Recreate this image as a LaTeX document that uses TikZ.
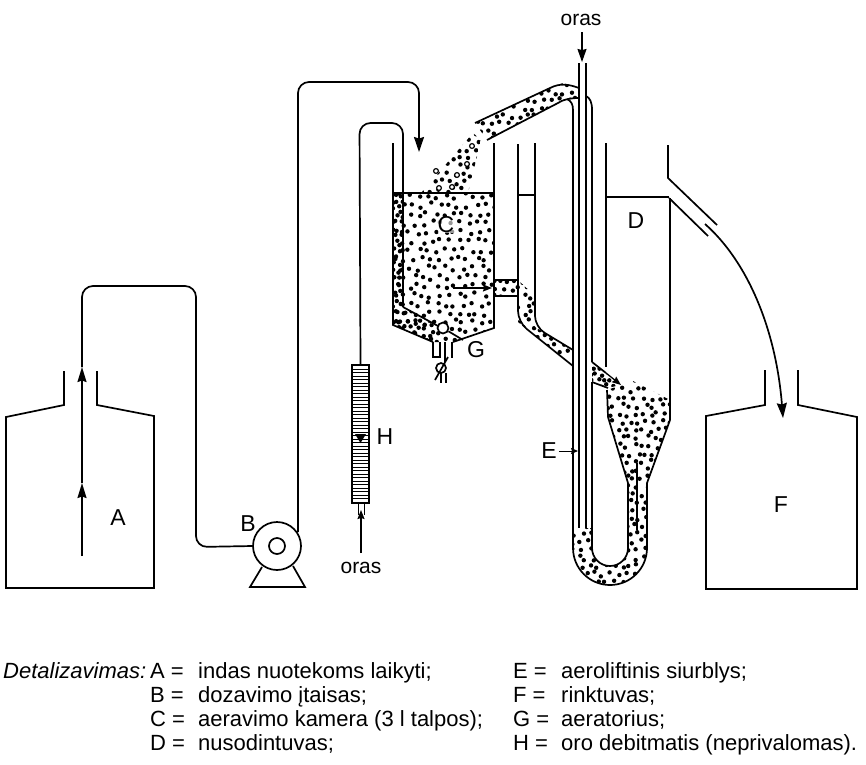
\documentclass[tikz,border=0pt]{standalone}
\usepackage{fontspec}
\setmainfont{Liberation Sans}
\usetikzlibrary{arrows.meta,positioning}
\newcommand{\grains}[6]{\begin{scope}\clip #1;
\foreach \gi in {0,...,#4} \foreach \gj in {0,...,#5} \fill ({#2+#6*\gi+mod(\gj,2)*#6/2+rand*#6/3.2},{#3+#6*\gj+rand*#6/3.2}) circle (2.2pt);
\end{scope}}
\tikzset{
  wall/.style={line width=1.7pt},
  thin wall/.style={line width=1pt},
  pipe/.style={line width=1.7pt,rounded corners=11pt},
  flow/.style={line width=1.5pt,-{Stealth[length=15pt,width=9pt,inset=1.5pt]}},
  small flow/.style={line width=1.3pt,-{Stealth[length=9pt,width=7pt,inset=1pt]}},
  open grain/.style={line width=1.2pt,fill=white},
  tag/.style={font=\fontsize{23}{24}\selectfont,inner sep=0pt},
  air/.style={font=\fontsize{21}{24}\selectfont,inner sep=0pt},
  legend/.style={font=\fontsize{22}{24}\selectfont,inner sep=0pt,anchor=base west}
}
\begin{document}
\begin{tikzpicture}[x=1pt,y=-1pt]
\useasboundingbox (0,0) rectangle (866,764);
\pgfmathsetseed{17}

% bottles
\draw[wall] (64,371) -- (64,405) -- (6,417) -- (6,588) -- (154,588) -- (154,416) -- (97,405) -- (97,371);
\draw[wall] (765,370) -- (765,405) -- (706,416) -- (706,589) -- (857,589) -- (857,417) -- (798,405) -- (798,370);
\node[tag] (labelA) at (118,518) {A};
\node[tag] (labelF) at (781,505) {F};

% pump
\node[draw,wall,circle,minimum size=48pt,inner sep=0pt] (pump) at (277,546) {};
\node[draw,wall,circle,minimum size=16pt,inner sep=0pt] (pumpeye) at (277,546) {};
\draw[wall] (262,567) -- (250,587) -- (305,587) -- (293,566);
\node[tag] (labelB) at (248,524) {B};

% feed line
\coordinate (feedin) at (82,556);
\coordinate (feedmid) at (82,483);
\coordinate (feedneck) at (82,367);
\coordinate (feedtop) at (82,286);
\coordinate (feedright) at (196,286);
\coordinate (pumpout) at (298,532);
\coordinate (dropin) at (419,152);
\draw[flow] (feedin) -- (feedmid);
\draw[flow] (feedmid) -- (feedneck);
\draw[pipe] (feedneck) -- (feedtop) -- (feedright) -- (196,547) -- (pump.west);
\draw[pipe,-{Stealth[length=15pt,width=10pt,inset=1.5pt]}] (pumpout) -- (298,82) -- (419,82) -- (dropin);

% air meter
\node[draw,wall,minimum width=17pt,minimum height=138pt,inner sep=0pt] (meter) at (360.5,434) {};
\foreach \hy in {369,372.5,...,500} \draw[line width=.8pt] (meter.west |- 0,\hy) -- (meter.east |- 0,\hy);
\fill (355,434) -- (366,434) -- (360.5,443) -- cycle;
\node[tag] (labelH) at (385,437) {H};
\draw[thin wall] (358,503) -- (358,515) (364,503) -- (364,515);
\coordinate (airin) at (361,553);
\coordinate (airup) at (361,510);
\draw[small flow] (airin) -- (airup);
\node[air] (orasH) at (361,568) {oras};
\coordinate (aerbend) at (403,307);
\draw[pipe] (meter.north) -- (359.5,123) -- (403,123) -- (aerbend);

% chamber C with its grains
\grains{(393,193) -- (494,193) -- (494,328) -- (453,342) -- (433,342) -- (393,325) -- cycle}{391}{196}{11}{16}{9}
\grains{(393,193) -- (403,193) -- (403,307) -- (436,326) -- (433,342) -- (393,325) -- cycle}{394}{194}{6}{22}{7}
\grains{(494,280) -- (518,280) -- (535,296) -- (535,327) -- (573,350) -- (573,366) -- (518,322) -- (518,296) -- (494,296) -- cycle}{492}{281}{10}{11}{8}
\grains{(475,123) -- (550,88) -- (563,83) -- (578,88) -- (578,99) -- (565,98) -- (558,103) -- (487,140) -- cycle}{472}{84}{13}{7}{8}
\grains{(473,133) -- (421,193) -- (468,193) -- (481,140) -- cycle}{418}{134}{8}{8}{8}
\grains{(607,390) -- (633,381) -- (670,400) -- (670,420) -- (647,483) -- (647,548) arc (0:180:37 and 37) -- (573,528) -- (592,528) -- (592,548) arc (180:0:18 and 18) -- (628,483) -- (608,417) -- cycle}{570}{382}{12}{26}{8}
\grains{(592,362) -- (620,385) -- (608,388) -- (592,382) -- cycle}{590}{362}{4}{4}{6}
\foreach \ox/\oy in {436/171,457/175,439/188,467/164,472/146,452/187}
  \draw[open grain] (\ox,\oy) circle (2.4pt);
\draw[wall] (393,143) -- (393,325) -- (433,342);
\draw[wall] (453,342) -- (494,328) -- (494,143);
\draw[wall] (393,193) -- (494,193);
\draw[wall] (aerbend) -- (438,326);
\node[draw,wall,fill=white,circle,minimum size=11pt,inner sep=0pt] (aerator) at (443,328) {};
\draw[wall] (aerator) -- (463,340);
\draw[wall] (433,342) -- (433,357) -- (440,357) -- (440,342);
\draw[wall] (445,342) -- (445,362) (452,342) -- (452,358);
\node[draw,wall,circle,minimum size=10pt,inner sep=0pt] (valve) at (441,368) {};
\draw[wall] (435,380) -- (448,357);
\draw[wall] (441,373) -- (441,383) (446,373) -- (446,383);
\node[tag,fill=white,fill opacity=.6,text opacity=1] (labelC) at (446,225) {C};
\node[tag] (labelG) at (476,350) {G};
\coordinate (overflowa) at (453,288);
\coordinate (overflowb) at (492,288);
\draw[small flow] (overflowa) -- (overflowb);

% overflow to the air lift
\draw[wall] (494,280) -- (518,280);
\draw[wall] (494,296) -- (518,296);
\draw[pipe] (518,144) -- (518,322) -- (573,366);
\draw[pipe] (535,143) -- (535,327) -- (573,350);
\draw[wall] (518,195) -- (535,195);

% air lift
\coordinate (orastop) at (582,32);
\coordinate (orasend) at (582,62);
\node[air] (orasE) at (581,20) {oras};
\draw[line width=1.3pt,-{Stealth[length=13pt,width=9pt,inset=1pt]}] (orastop) -- (orasend);
\draw[wall] (579,63) -- (579,528) (586,63) -- (586,528);
\draw[wall] (475,123) -- (550,88) .. controls (560,83) and (568,84) .. (579,88);
\draw[wall] (487,140) -- (558,103) .. controls (562,100) and (570,98) .. (579,98);
\draw[wall] (567,99) .. controls (571,101) and (573,104) .. (573,110) -- (573,548) arc (180:0:37 and 37) -- (647,483) -- (670,420) -- (670,198);
\draw[wall] (586,96) .. controls (590,98) and (592,102) .. (592,110) -- (592,362);
\draw[wall] (592,382) -- (592,548) arc (180:0:18 and 18) -- (628,483) -- (608,417) -- (607,390);
\draw[wall] (592,382) -- (608,388);
\draw[wall] (592,362) -- (606,373);
\coordinate (liftouta) at (606,373);
\coordinate (liftoutb) at (621,385);
\draw[small flow] (liftouta) -- (liftoutb);
\draw[wall] (637,463) -- (637,530);
\node[tag] (labelE) at (549,451) {E};
\coordinate (etip) at (578,451);
\draw[thin wall,-{Stealth[length=7pt,width=6pt,inset=1pt]}] (labelE.east) ++(2,0) -- (etip);

% settler D
\draw[wall] (606,143) -- (606,367);
\draw[wall] (606,197) -- (669,197);
\node[tag] (labelD) at (636,221) {D};
\draw[wall] (668,145) -- (668,178) -- (717,225);
\draw[wall] (669,198) -- (708,236);
\coordinate (spout) at (705,224);
\coordinate (intoF) at (783,418);
\draw[wall,-{Stealth[length=15pt,width=10pt,inset=1.5pt]}] (spout) .. controls (748,262) and (776,330) .. (intoF);

% legend
\node[legend,font=\fontsize{22}{24}\selectfont\itshape] (legendhead) at (3,678) {Detalizavimas:};
\foreach \ly/\lk/\lt in {678/A/{indas nuotekoms laikyti;},702/B/{dozavimo įtaisas;},726/C/{aeravimo kamera (3 l talpos);},750/D/{nusodintuvas;}}
  {\node[legend] (key\lk) at (150,\ly) {\lk\ =}; \node[legend] (text\lk) at (198,\ly) {\lt};}
\foreach \ly/\lk/\lt in {678/E/{aeroliftinis siurblys;},702/F/{rinktuvas;},726/G/{aeratorius;},750/H/{oro debitmatis (neprivalomas).}}
  {\node[legend] (key\lk) at (513,\ly) {\lk\ =}; \node[legend] (text\lk) at (561,\ly) {\lt};}
\end{tikzpicture}
\end{document}
